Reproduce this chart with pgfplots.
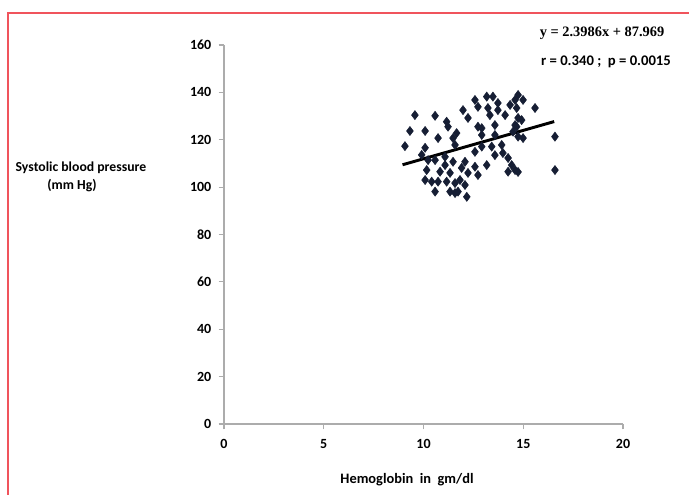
\documentclass[border=0pt]{standalone}
\usepackage{pgfplots}
\pgfplotsset{compat=1.18}
\usepackage{fontspec}
\setmainfont{Carlito}
\newfontfamily\eqfont{Liberation Serif}

\definecolor{dotblue}{RGB}{22,30,52}
\definecolor{framered}{RGB}{240,84,92}

\begin{document}
\begin{tikzpicture}[x=0.75pt,y=0.75pt]
\useasboundingbox[fill=white] (0,0) rectangle (689,495);
\draw[framered, line width=1.8pt] (8,0) -- (8,482) -- (689,482);

\begin{axis}[
    at={(168pt,53.25pt)}, anchor=south west,
    scale only axis,
    width=299.25pt, height=284.25pt,
    xmin=0, xmax=20, ymin=0, ymax=160,
    xtick={0,5,...,20}, ytick={0,20,...,160},
    axis x line=bottom, axis y line=left,
    axis line style={-, draw=gray!65, line width=0.9pt},
    tick style={draw=gray!65, line width=0.8pt},
    tick align=outside, major tick length=4pt,
    tick label style={font=\bfseries\fontsize{10.5}{12}\selectfont},
    /pgf/number format/assume math mode=true,
    xticklabel style={yshift=-4pt},
    yticklabel style={xshift=-2pt},
    clip=false,
]
\addplot[only marks, mark=diamond*, mark size=3.4pt, color=dotblue] coordinates {
(9.57,130.4) (10.58,130.1) (11.16,127.6) (11.23,125.5) (9.32,123.7)
(10.08,123.7) (10.73,120.7) (11.48,120.7) (9.07,117.3) (10.08,116.6)
(11.58,117.8) (9.91,113.6) (10.23,111.4) (10.58,111.4) (11.08,112.8)
(11.08,109.3) (11.48,110.7) (10.16,107.2) (10.83,106.5) (11.33,106.0)
(10.08,103.0) (10.41,102.3) (10.73,102.3) (11.16,102.3) (11.58,101.7)
(10.58,98.1) (11.33,98.1) (11.58,97.5)
(12.58,136.8) (13.17,138.2) (13.48,138.2) (12.73,133.9) (13.23,133.4)
(13.73,135.5) (14.34,134.7) (14.59,136.8) (11.98,132.5) (12.23,129.2)
(13.73,132.5) (14.09,130.4) (13.33,130.4) (14.74,129.2) (12.73,125.5)
(12.92,124.9) (13.58,126.2) (14.59,126.2) (11.66,122.8) (12.92,122.0)
(13.58,122.0) (14.49,123.4) (12.92,117.1) (13.42,117.1) (13.92,117.8)
(12.58,114.9) (13.58,113.5) (13.98,114.4) (14.24,112.3) (12.08,110.7)
(12.58,108.6) (13.17,109.3) (14.42,109.3) (11.91,108.1) (12.23,106.0)
(12.73,105.1) (14.24,106.5) (14.59,107.2) (11.83,103.0) (12.08,100.9)
(12.17,95.9) (11.73,98.1)
(14.74,138.9) (14.99,136.8) (14.67,133.4) (15.59,133.4) (14.92,128.3)
(14.67,125.5) (14.74,121.3) (14.99,120.7) (16.59,121.3) (14.74,106.4)
(16.59,107.2)
};
\addplot[black, line width=2.2pt] coordinates {(8.95,109.44) (16.55,127.67)};
\end{axis}

\node[font=\bfseries\fontsize{10.3}{12}\selectfont] at (81,327)
  {Systolic blood pressure};
\node[font=\bfseries\fontsize{10.3}{12}\selectfont] at (72,309) {(mm Hg)};
\node[font=\bfseries\fontsize{10.8}{12}\selectfont] at (407,15)
  {Hemoglobin\ \ in\ \ gm/dl};
\node[font=\eqfont\bfseries\fontsize{10.8}{12}\selectfont] at (602,462)
  {y = 2.3986x + 87.969};
\node[font=\bfseries\fontsize{11}{12}\selectfont] at (606,433)
  {r = 0.340 ;\ \ p = 0.0015};
\end{tikzpicture}
\end{document}
